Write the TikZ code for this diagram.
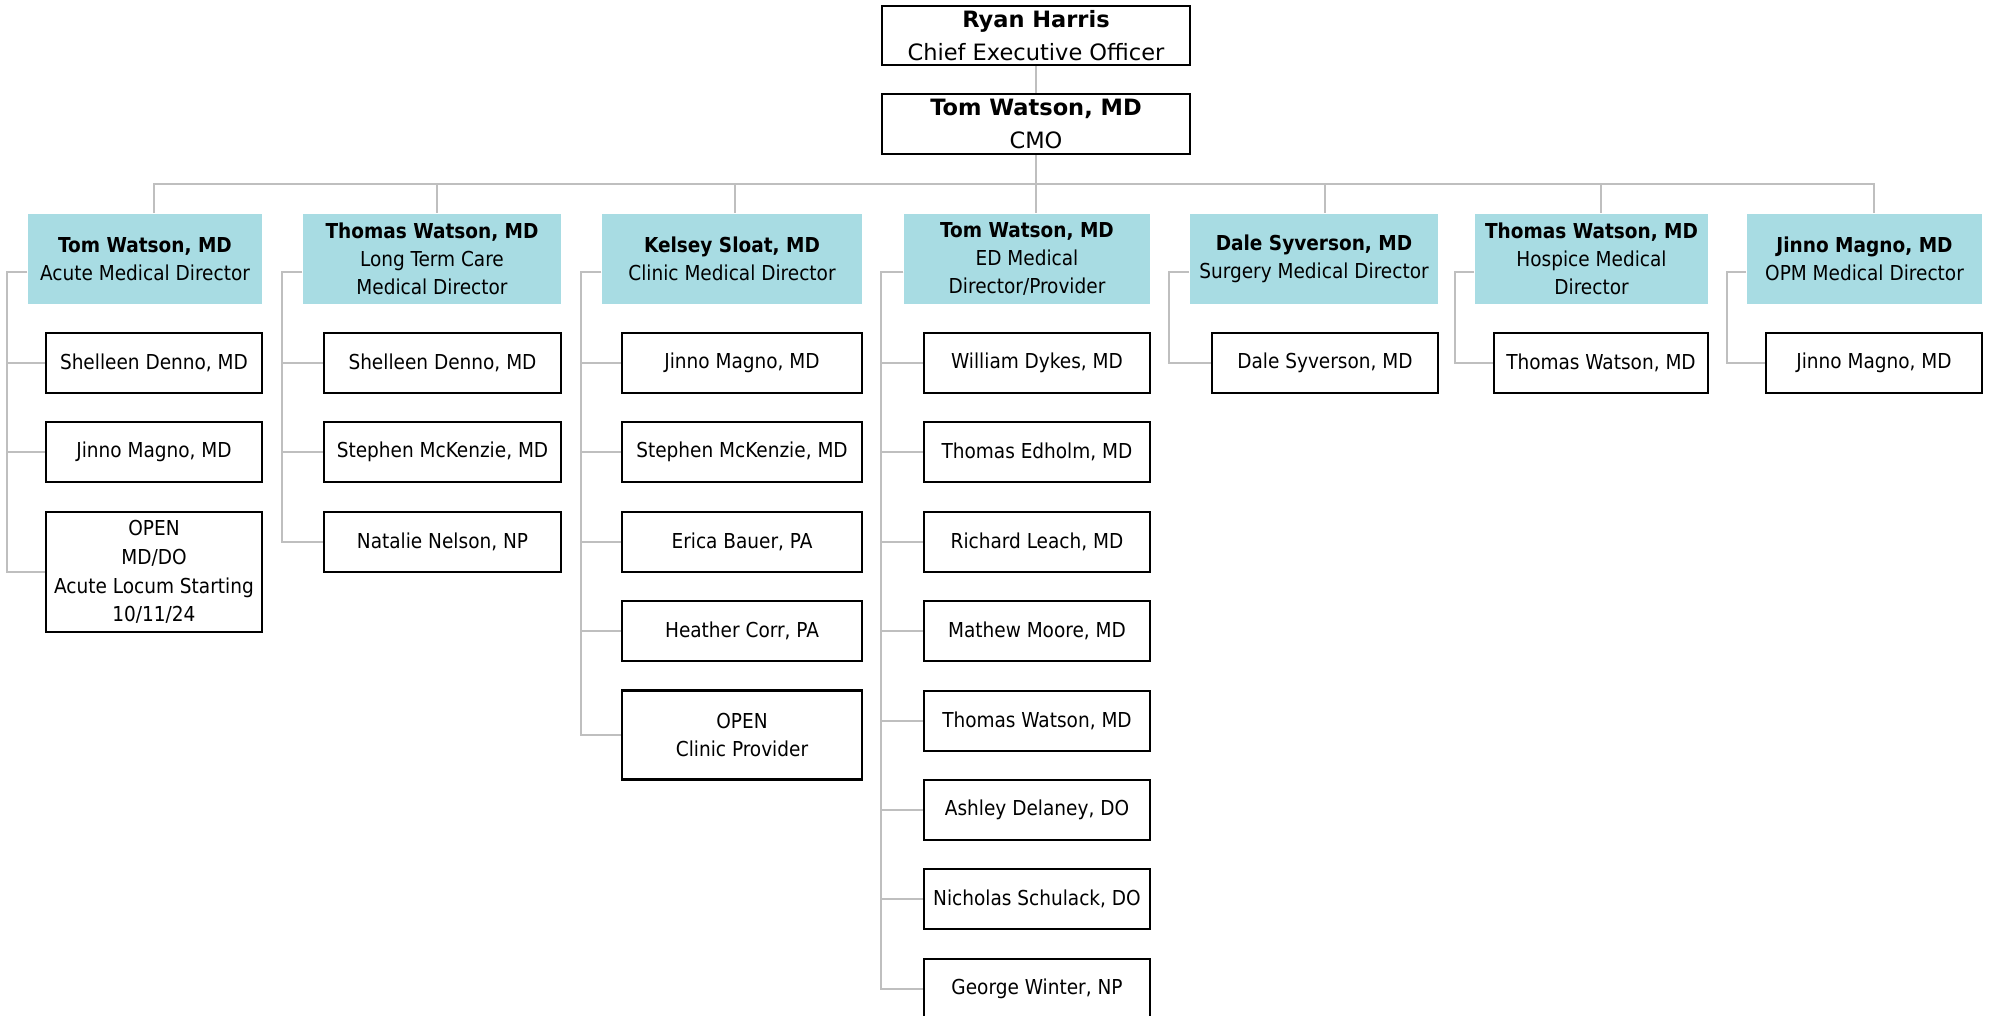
\documentclass[tikz,border=0pt]{standalone}
\usepackage{fontspec}
\setmainfont{DejaVu Sans Condensed}
\newfontfamily\widefont{DejaVu Sans}
\usetikzlibrary{positioning}
\definecolor{dirteal}{RGB}{168,220,227}
\definecolor{linegray}{RGB}{191,191,191}

\tikzset{
  topbox/.style={draw, line width=0.6pt, align=center, inner sep=0pt, minimum width=3.08cm, minimum height=0.59cm, font=\widefont\fontsize{6.4}{9.2}\selectfont},
  dirbox/.style={fill=dirteal, align=center, inner sep=0pt, minimum height=0.9cm, font=\fontsize{5.85}{7.97}\selectfont},
  staffbox/.style={draw, line width=0.6pt, align=center, inner sep=0pt, minimum height=0.6cm, font=\fontsize{5.85}{8.2}\selectfont},
  link/.style={draw=linegray, line width=0.6pt},
}

\begin{document}
\begin{tikzpicture}[x=0.01cm, y=-0.01cm]
    \useasboundingbox (0,0) rectangle (1990,1016);

    % CEO and CMO at the top
    \node[topbox] (ceo) at (1036,35.5) {\textbf{Ryan Harris}\\Chief Executive Officer};
    \node[topbox, minimum height=0.6cm] (cmo) at (1036,124) {\textbf{Tom Watson, MD}\\CMO};
    \draw[link] (ceo.south) -- (cmo.north);

    % Medical directors
    \node[dirbox, minimum width=2.34cm] (acute) at (145,259) {\textbf{Tom Watson, MD}\\Acute Medical Director};
    \node[dirbox, minimum width=2.58cm] (ltc) at (432,259) {\textbf{Thomas Watson, MD}\\Long Term Care\\Medical Director};
    \node[dirbox, minimum width=2.60cm] (clinic) at (732,259) {\textbf{Kelsey Sloat, MD}\\Clinic Medical Director};
    \node[dirbox, minimum width=2.46cm] (ed) at (1027,259) {\textbf{Tom Watson, MD}\\ED Medical\\Director/Provider};
    \node[dirbox, minimum width=2.48cm] (surg) at (1314,259) {\textbf{Dale Syverson, MD}\\Surgery Medical Director};
    \node[dirbox, minimum width=2.33cm] (hosp) at (1591.5,259) {\textbf{Thomas Watson, MD}\\Hospice Medical\\Director};
    \node[dirbox, minimum width=2.35cm] (opm) at (1864.5,259) {\textbf{Jinno Magno, MD}\\OPM Medical Director};

    % Acute
    \node[staffbox, minimum width=2.16cm] (acute1) at (154,363) {Shelleen Denno, MD};
    \node[staffbox, minimum width=2.16cm] (acute2) at (154,452) {Jinno Magno, MD};
    \node[staffbox, minimum width=2.16cm, minimum height=1.2cm] (acute3) at (154,572) {OPEN\\MD/DO\\Acute Locum Starting\\10/11/24};

    % Long Term Care
    \node[staffbox, minimum width=2.37cm] (ltc1) at (442.5,363) {Shelleen Denno, MD};
    \node[staffbox, minimum width=2.37cm] (ltc2) at (442.5,452) {Stephen McKenzie, MD};
    \node[staffbox, minimum width=2.37cm] (ltc3) at (442.5,542) {Natalie Nelson, NP};

    % Clinic
    \node[staffbox, minimum width=2.40cm] (clinic1) at (742,363) {Jinno Magno, MD};
    \node[staffbox, minimum width=2.40cm] (clinic2) at (742,452) {Stephen McKenzie, MD};
    \node[staffbox, minimum width=2.40cm] (clinic3) at (742,542) {Erica Bauer, PA};
    \node[staffbox, minimum width=2.40cm] (clinic4) at (742,631) {Heather Corr, PA};
    \node[staffbox, minimum width=2.40cm, minimum height=0.89cm] (clinic5) at (742,735) {OPEN\\Clinic Provider};

    % ED
    \node[staffbox, minimum width=2.26cm] (ed1) at (1037,363) {William Dykes, MD};
    \node[staffbox, minimum width=2.26cm] (ed2) at (1037,452) {Thomas Edholm, MD};
    \node[staffbox, minimum width=2.26cm] (ed3) at (1037,542) {Richard Leach, MD};
    \node[staffbox, minimum width=2.26cm] (ed4) at (1037,631) {Mathew Moore, MD};
    \node[staffbox, minimum width=2.26cm] (ed5) at (1037,721) {Thomas Watson, MD};
    \node[staffbox, minimum width=2.26cm] (ed6) at (1037,810) {Ashley Delaney, DO};
    \node[staffbox, minimum width=2.26cm] (ed7) at (1037,899) {Nicholas Schulack, DO};
    \node[staffbox, minimum width=2.26cm] (ed8) at (1037,989) {George Winter, NP};

    % Surgery, Hospice, OPM
    \node[staffbox, minimum width=2.26cm] (surg1) at (1325,363) {Dale Syverson, MD};
    \node[staffbox, minimum width=2.14cm] (hosp1) at (1601,363) {Thomas Watson, MD};
    \node[staffbox, minimum width=2.16cm] (opm1) at (1874,363) {Jinno Magno, MD};

    % Bus from CMO down to the directors
    \coordinate (bus) at (1036,184);
    \draw[link] (cmo.south) -- (cmo.south |- ed.north);
    \draw[link] (bus) -| (acute1 |- acute.north);
    \draw[link] (bus) -| ([xshift=0.05cm]ltc.north);
    \draw[link] (bus) -| ([xshift=0.03cm]clinic.north);
    \draw[link] (bus) -| (surg1 |- surg.north);
    \draw[link] (bus) -| (hosp1 |- hosp.north);
    \draw[link] (bus) -| (opm1 |- opm.north);

    % Elbows from each director to its staff
    \draw[link] ([yshift=-0.13cm]acute.west) -- ++(-20,0) |- (acute1.west);
    \draw[link] ([yshift=-0.13cm]acute.west) -- ++(-20,0) |- (acute2.west);
    \draw[link] ([yshift=-0.13cm]acute.west) -- ++(-20,0) |- (acute3.west);

    \draw[link] ([yshift=-0.13cm]ltc.west) -- ++(-20,0) |- (ltc1.west);
    \draw[link] ([yshift=-0.13cm]ltc.west) -- ++(-20,0) |- (ltc2.west);
    \draw[link] ([yshift=-0.13cm]ltc.west) -- ++(-20,0) |- (ltc3.west);

    \draw[link] ([yshift=-0.13cm]clinic.west) -- ++(-20,0) |- (clinic1.west);
    \draw[link] ([yshift=-0.13cm]clinic.west) -- ++(-20,0) |- (clinic2.west);
    \draw[link] ([yshift=-0.13cm]clinic.west) -- ++(-20,0) |- (clinic3.west);
    \draw[link] ([yshift=-0.13cm]clinic.west) -- ++(-20,0) |- (clinic4.west);
    \draw[link] ([yshift=-0.13cm]clinic.west) -- ++(-20,0) |- (clinic5.west);

    \draw[link] ([yshift=-0.13cm]ed.west) -- ++(-22,0) |- (ed1.west);
    \draw[link] ([yshift=-0.13cm]ed.west) -- ++(-22,0) |- (ed2.west);
    \draw[link] ([yshift=-0.13cm]ed.west) -- ++(-22,0) |- (ed3.west);
    \draw[link] ([yshift=-0.13cm]ed.west) -- ++(-22,0) |- (ed4.west);
    \draw[link] ([yshift=-0.13cm]ed.west) -- ++(-22,0) |- (ed5.west);
    \draw[link] ([yshift=-0.13cm]ed.west) -- ++(-22,0) |- (ed6.west);
    \draw[link] ([yshift=-0.13cm]ed.west) -- ++(-22,0) |- (ed7.west);
    \draw[link] ([yshift=-0.13cm]ed.west) -- ++(-22,0) |- (ed8.west);

    \draw[link] ([yshift=-0.13cm]surg.west) -- ++(-20,0) |- (surg1.west);
    \draw[link] ([yshift=-0.13cm]hosp.west) -- ++(-19,0) |- (hosp1.west);
    \draw[link] ([yshift=-0.13cm]opm.west) -- ++(-19,0) |- (opm1.west);
\end{tikzpicture}
\end{document}
